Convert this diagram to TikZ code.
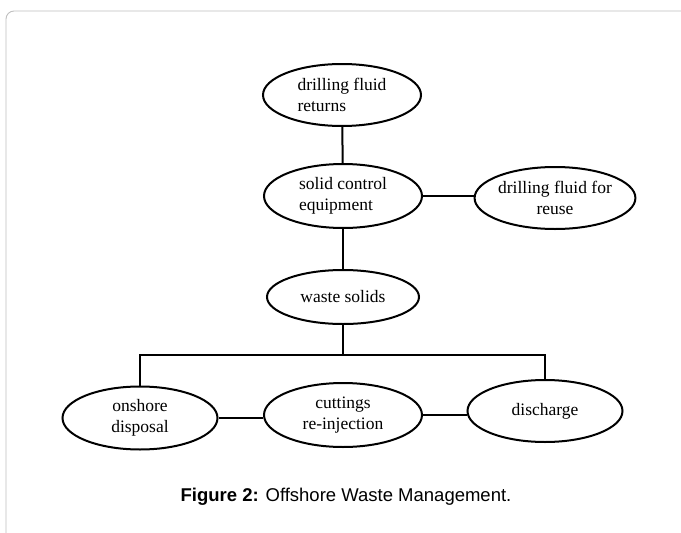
\documentclass[tikz,border=0pt]{standalone}
\usepackage{fontspec}
\setmainfont{Liberation Serif}
\newfontfamily\capfont{Liberation Sans}
\usetikzlibrary{shapes.geometric}
\tikzset{
  wastebox/.style={draw, ellipse, line width=2pt, minimum width=#1, minimum height=62pt, inner sep=0pt, font=\fontsize{17.5}{21}\selectfont},
  wastebox/.default=158pt,
  link/.style={line width=2pt}
}
\begin{document}
\begin{tikzpicture}[x=1pt, y=-1pt]
    \useasboundingbox (0,0) rectangle (681,533);
    \clip (0,0) rectangle (681,533);
    % Rahmen
    \draw[black!25, line width=0.9pt, rounded corners=8pt] (6,11) rectangle (700,560);
    % Knoten
    \node[wastebox, align=left] (returns) at (342,95) {drilling fluid\\returns};
    \node[wastebox, align=left, minimum height=64pt] (solid) at (343,196) {solid control\\equipment};
    \node[wastebox, align=center] (reuse) at (555,198) {drilling fluid for\\reuse};
    \node[wastebox=152pt, minimum height=54pt] (waste) at (343,297) {waste solids};
    \node[wastebox=155pt, align=center, minimum height=63pt] (onshore) at (140,418) {onshore\\disposal};
    \node[wastebox, align=center, minimum height=64pt] (cuttings) at (343,415) {cuttings\\re-injection};
    \node[wastebox=155pt] (discharge) at (545,411) {discharge};
    % Verbindungen
    \coordinate (fork) at (343,355);
    \draw[link] (returns) -- (solid);
    \draw[link] (solid.east) -- (reuse.west |- solid.east);
    \draw[link] (solid) -- (waste);
    \draw[link] (waste) -- (fork);
    \draw[link] (onshore.north) -- (onshore.north |- fork) -- (discharge.north |- fork) -- (discharge.north);
    \draw[link] (onshore.east) -- (cuttings.west |- onshore.east);
    \draw[link] (cuttings.east) -- (discharge.west |- cuttings.east);
    % Beschriftung
    \node (caption) at (346,497) {\capfont\fontsize{18.5}{22}\selectfont\textbf{Figure 2:} Offshore Waste Management.};
\end{tikzpicture}
\end{document}
